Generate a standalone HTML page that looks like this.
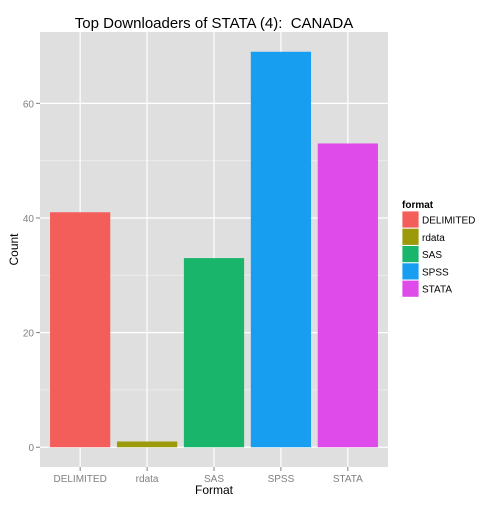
<!DOCTYPE html>
<html><head><meta charset="utf-8"><style>
body{margin:0;background:#fff;width:504px;height:504px;overflow:hidden}
svg{font-family:"Liberation Sans",Arial,sans-serif}
</style></head><body>
<svg id="chart" width="504" height="504">
<text x="214" y="28" font-size="15" text-anchor="middle">Top Downloaders of STATA (4):&#160; CANADA</text>
<g id="plot"></g>
</svg>
<script>
const categories=["DELIMITED","rdata","SAS","SPSS","STATA"];
const counts=[41,1,33,69,53];
const colors=["#F35E5A","#9A9A0A","#19B56B","#179EF0","#DF4BEA"];
const yTicks=[0,20,40,60];
const L=40,R=388,T=32,B=467;
const ymin=-3.45,ymax=72.45;
const y=v=>B-(v-ymin)/(ymax-ymin)*(B-T);
const step=(R-L)/5.2;
const x=i=>L+step*(0.6+i);
const NS="http://www.w3.org/2000/svg";
const g=document.getElementById('plot');
function mk(t,a,p){const e=document.createElementNS(NS,t);for(const k in a)e.setAttribute(k,a[k]);(p||g).appendChild(e);return e;}
let bg=mk('rect',{x:L,y:T,width:R-L,height:B-T,fill:'#DFDFDF'});


for(let i=0;i<yTicks.length-1;i++){mk('line',{x1:L,x2:R,y1:y((yTicks[i]+yTicks[i+1])/2),y2:y((yTicks[i]+yTicks[i+1])/2),stroke:'#EEEEEE','stroke-width':0.8});}
yTicks.forEach(v=>{
 mk('line',{x1:L,x2:R,y1:y(v),y2:y(v),stroke:'#fff','stroke-width':1.2});
 mk('line',{x1:L-4,x2:L,y1:y(v),y2:y(v),stroke:'#7F7F7F'});
 const t=mk('text',{x:L-6,y:y(v)+4,'font-size':10,fill:'#7F7F7F','text-anchor':'end'});t.textContent=v;
 
 
});
categories.forEach((c,i)=>{
 mk('line',{x1:x(i),x2:x(i),y1:T,y2:B,stroke:'#fff','stroke-width':1.2});
});
categories.forEach((c,i)=>{
 const b=mk('rect',{x:x(i)-step*0.45,y:y(counts[i]),width:step*0.9,height:y(0)-y(counts[i]),fill:colors[i]});
 
 
 mk('line',{x1:x(i),x2:x(i),y1:B,y2:B+4,stroke:'#7F7F7F'});
 const t=mk('text',{x:x(i),y:B+15,'font-size':10,fill:'#7F7F7F','text-anchor':'middle'});t.textContent=c;
 
 
});
let xt=mk('text',{x:(L+R)/2,y:494,'font-size':12,'text-anchor':'middle'});xt.textContent='Format';


let yt=mk('text',{x:0,y:0,'font-size':12,'text-anchor':'middle',transform:`translate(18,${(T+B)/2}) rotate(-90)`});yt.textContent='Count';


let lt=mk('text',{x:402,y:208,'font-size':10,'font-weight':'bold'});lt.textContent='format';


categories.forEach((c,i)=>{
 const yy=211+i*17.3;
 const k=mk('rect',{x:402,y:yy,width:17,height:17,fill:colors[i],stroke:'#fff','stroke-width':0.8});
 
 
 const t=mk('text',{x:422,y:yy+12.5,'font-size':10});t.textContent=c;
 
 
});
</script>
</body></html>
